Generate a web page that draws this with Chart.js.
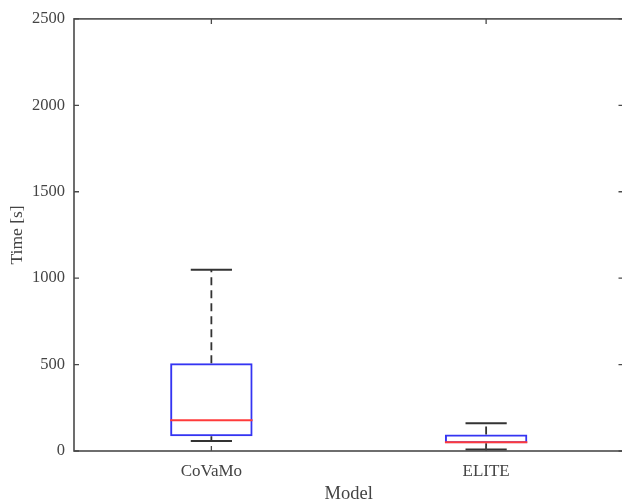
<!DOCTYPE html>
<html>
<head>
<meta charset="utf-8">
<title>Boxplot</title>
<script src="https://cdn.jsdelivr.net/npm/chart.js@4.4.1/dist/chart.umd.min.js"></script>
<style>
	html, body { margin: 0; padding: 0; background: #fff; overflow: hidden; }
</style>
</head>
<body>
<canvas id="boxcanvas" width="626" height="503"></canvas>
<script>

var categories = ['CoVaMo', 'ELITE'];
var whiskerLow = [58, 8];
var q1 = [86, 45];
var median = [178, 50];
var q3 = [507, 96];
var whiskerHigh = [1048, 161];
var yTicks = [0, 500, 1000, 1500, 2000, 2500];

var axisColor = '#4a4a4a';
var textColor = '#444';

// whiskers, caps, medians, frame and inward ticks
var boxPlugin = {
	id: 'boxExtras',
	afterDatasetsDraw: function(chart) {
		var ctx = chart.ctx;
		var xs = chart.scales.x, ys = chart.scales.y;
		var area = chart.chartArea;
		var bars = chart.getDatasetMeta(0).data;
		ctx.save();
		for (var i = 0; i < categories.length; i++) {
			var bar = bars[i];
			var x = xs.getPixelForValue(i);
			var half = bar.width / 2;
			var capHalf = half / 2;
			// dashed whiskers
			ctx.strokeStyle = '#333';
			ctx.lineWidth = 1.8;
			ctx.setLineDash([8, 5]);
			ctx.beginPath();
			ctx.moveTo(x, ys.getPixelForValue(q3[i]));
			ctx.lineTo(x, ys.getPixelForValue(whiskerHigh[i]));
			ctx.moveTo(x, ys.getPixelForValue(q1[i]));
			ctx.lineTo(x, ys.getPixelForValue(whiskerLow[i]));
			ctx.stroke();
			ctx.setLineDash([]);
			// caps
			ctx.lineWidth = 2;
			ctx.beginPath();
			ctx.moveTo(x - capHalf, ys.getPixelForValue(whiskerHigh[i]));
			ctx.lineTo(x + capHalf, ys.getPixelForValue(whiskerHigh[i]));
			ctx.moveTo(x - capHalf, ys.getPixelForValue(whiskerLow[i]));
			ctx.lineTo(x + capHalf, ys.getPixelForValue(whiskerLow[i]));
			ctx.stroke();
			// median
			ctx.strokeStyle = '#ff3b3b';
			ctx.lineWidth = 2;
			ctx.beginPath();
			ctx.moveTo(x - half, ys.getPixelForValue(median[i]));
			ctx.lineTo(x + half, ys.getPixelForValue(median[i]));
			ctx.stroke();
		}
		// frame
		ctx.strokeStyle = axisColor;
		ctx.lineWidth = 1.6;
		ctx.strokeRect(area.left, area.top, area.right - area.left, area.bottom - area.top);
		// inward ticks
		ctx.lineWidth = 1.3;
		ctx.beginPath();
		yTicks.forEach(function(v) {
			var y = ys.getPixelForValue(v);
			ctx.moveTo(area.left, y); ctx.lineTo(area.left + 5, y);
			ctx.moveTo(area.right, y); ctx.lineTo(area.right - 5, y);
		});
		for (var j = 0; j < categories.length; j++) {
			var cx = xs.getPixelForValue(j);
			ctx.moveTo(cx, area.bottom); ctx.lineTo(cx, area.bottom - 5);
			ctx.moveTo(cx, area.top); ctx.lineTo(cx, area.top + 5);
		}
		ctx.stroke();
		ctx.restore();
	}
};

var ctx = document.getElementById('boxcanvas').getContext('2d');
new Chart(ctx, {
	type: 'bar',
	data: {
		labels: categories,
		datasets: [{
			label: 'IQR',
			data: categories.map(function(c, i) { return [q1[i], q3[i]]; }),
			backgroundColor: 'rgba(0,0,0,0)',
			borderColor: '#3434f2',
			borderWidth: 2,
			borderSkipped: false,
			barPercentage: 0.3,
			categoryPercentage: 1
		}]
	},
	options: {
		responsive: false,
		animation: false,
		layout: { padding: { top: 17, right: 2.5, left: 0, bottom: 0 } },
		plugins: {
			legend: { display: false },
			tooltip: { enabled: false }
		},
		scales: {
			x: {
				grid: { display: false, drawTicks: false },
				border: { display: false },
				ticks: {
					color: textColor,
					padding: 10,
					font: { family: 'Liberation Serif', size: 17 }
				},
				title: {
					display: true,
					text: 'Model',
					color: textColor,
					padding: { top: 0, bottom: 0 },
					font: { family: 'Liberation Serif', size: 18.5, lineHeight: 1 }
				},
				afterFit: function(scale) { scale.height = 52; }
			},
			y: {
				min: 0,
				max: 2500,
				grid: { display: false, drawTicks: false },
				border: { display: false },
				afterBuildTicks: function(scale) {
					scale.ticks = yTicks.map(function(v) { return { value: v }; });
				},
				ticks: {
					color: textColor,
					padding: 9,
					font: { family: 'Liberation Serif', size: 16.5 },
					callback: function(v) { return String(v); }
				},
				title: {
					display: true,
					text: 'Time [s]',
					color: textColor,
					padding: { top: 7, bottom: 0 },
					font: { family: 'Liberation Serif', size: 17.5 }
				},
				afterFit: function(scale) { scale.width = 74; }
			}
		}
	},
	plugins: [boxPlugin]
});

</script>
</body>
</html>
